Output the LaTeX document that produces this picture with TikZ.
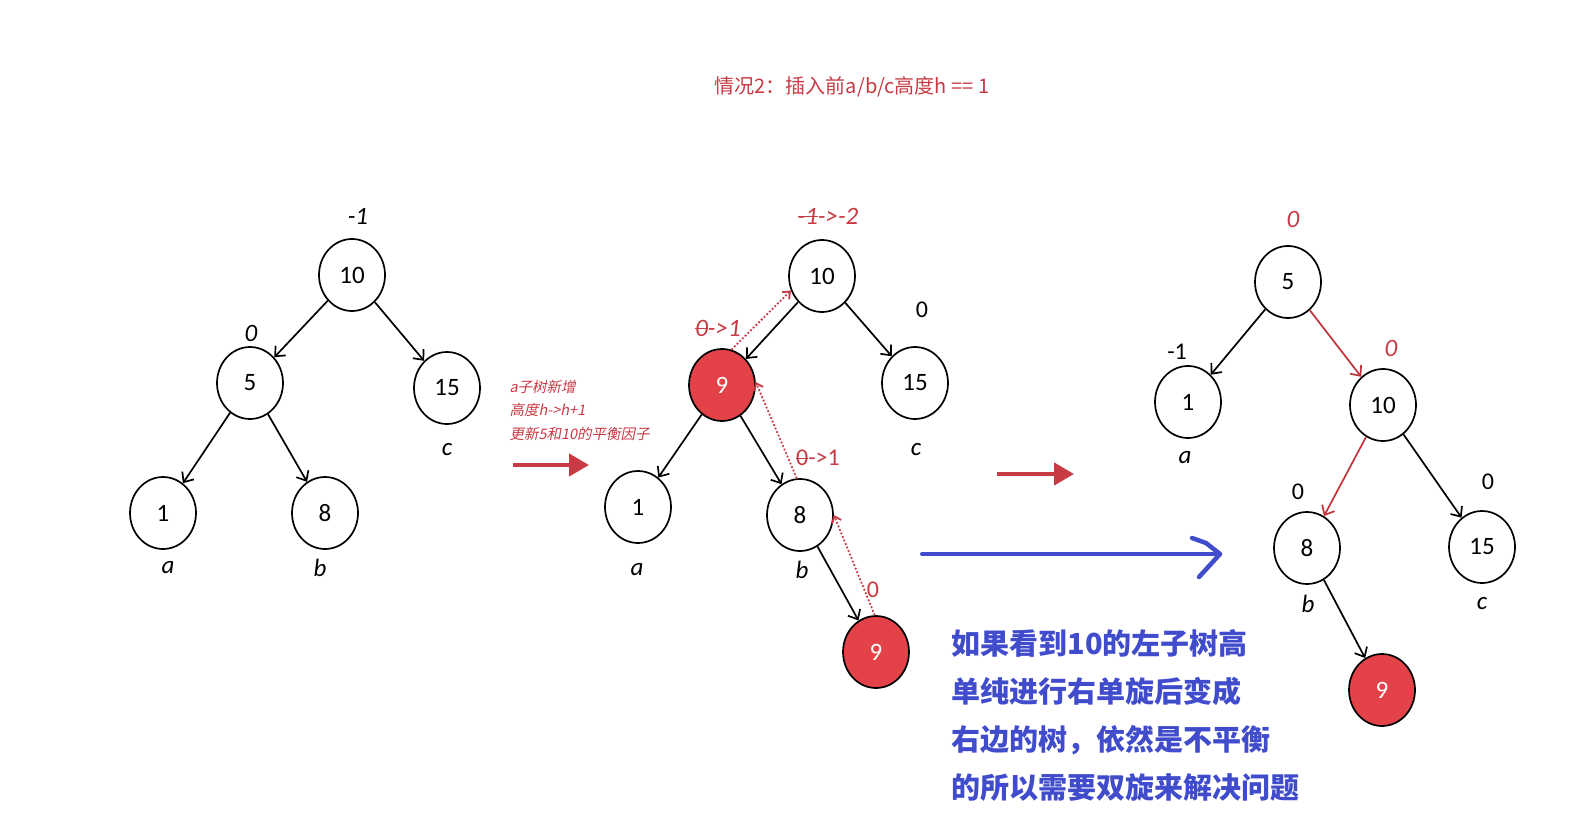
\documentclass[tikz,border=0pt]{standalone}
\usepackage{fontspec}
\setmainfont{Carlito}
\newfontfamily\cjk{Noto Sans CJK SC}
\newfontfamily\cjkit[FakeSlant=0.2]{Noto Sans CJK SC}
\usetikzlibrary{shapes.geometric,arrows.meta}
\definecolor{nodered}{RGB}{226,66,72}
\definecolor{annored}{RGB}{200,58,68}
\definecolor{edgered}{RGB}{192,52,58}
\definecolor{textblue}{RGB}{64,76,204}
\newsavebox\stbox
\newcommand\strk[1]{\sbox\stbox{#1}\rlap{\rule[0.3em]{\wd\stbox}{1pt}}\usebox\stbox}
\tikzset{
  nd/.style={ellipse,draw,line width=1.7pt,minimum width=66pt,minimum height=72pt,inner sep=0pt,font=\fontsize{25}{25}\selectfont},
  rd/.style={nd,fill=nodered,text=white},
  edge/.style={-{Straight Barb[length=8pt,width=14pt]},line width=1.7pt},
  redge/.style={edge,draw=edgered},
  dotarrow/.style={-{Straight Barb[length=6pt,width=10pt]},dotted,line width=1.8pt,draw=annored},
  lab/.style={font=\itshape\fontsize{25}{25}\selectfont},
  bf/.style={font=\fontsize{24}{24}\selectfont},
  rlab/.style={lab,text=annored},
  bigarrow/.style={-{Triangle[length=20pt,width=22pt]},line width=4.5pt,draw=annored},
}
\begin{document}
\begin{tikzpicture}[x=1pt,y=-1pt]
\useasboundingbox (0,0) rectangle (1593,838);
% title
\node[text=annored,font=\cjk\fontsize{20}{20}\selectfont] (title) at (852,87) {情况2：插入前a/b/c高度h == 1};

% ---------- left tree ----------
\node[nd] (L10) at (352,275) {10};
\node[nd] (L5) at (250,383) {5};
\node[nd] (L15) at (447,388) {15};
\node[nd] (L1) at (163,513) {1};
\node[nd] (L8) at (325,513) {8};
\node[lab] (Lb10) at (358,216) {-1};
\node[lab] (Lb5) at (251,333) {0};
\node[lab] (La) at (168,568) {a};
\node[lab] (Lb) at (320,568) {b};
\node[lab] (Lc) at (447,450) {c};
\draw[edge] (L10) -- (L5);
\draw[edge] (L10) -- (L15);
\draw[edge] (L5) -- (L1);
\draw[edge] (L5) -- (L8);

% first red arrow and note
\node[text=annored,align=left,anchor=west,font=\cjkit\fontsize{14.5}{23.5}\selectfont] (note) at (506,410)
  {a子树新增\\高度h->h+1\\更新5和10的平衡因子};
\coordinate (ra1s) at (513,465);
\coordinate (ra1e) at (589,465);
\draw[bigarrow] (ra1s) -- (ra1e);

% ---------- middle tree ----------
\node[nd] (M10) at (822,276) {10};
\node[rd] (M9) at (722,385) {9};
\node[nd] (M15) at (915,383) {15};
\node[nd] (M1) at (638,507) {1};
\node[nd] (M8) at (800,515) {8};
\node[rd] (B9) at (876,652) {9};
\node[rlab] (Mlb10) at (828,216) {\strk{-1}->-2};
\node[bf] (Mlb15) at (922,310) {0};
\node[rlab] (Mlb9) at (718,328) {\strk{0}->1};
\node[bf,text=annored] (Mlb8) at (818,458) {\strk{0}->1};
\node[bf,text=annored] (MlbB9) at (873,590) {0};
\node[lab] (Ma) at (637,570) {a};
\node[lab] (Mb) at (802,570) {b};
\node[lab] (Mc) at (916,450) {c};
\draw[edge] (M10) -- (M9);
\draw[edge] (M10) -- (M15);
\draw[edge] (M9) -- (M1);
\draw[edge] (M9) -- (M8);
\draw[edge] (M8) -- (B9);
\draw[dotarrow] (M9.75) -- (M10.205);
\draw[dotarrow] (M8.95) -- (M9.5);
\draw[dotarrow] (B9.92) -- (M8.0);

% second red arrow
\coordinate (ra2s) at (997,474);
\coordinate (ra2e) at (1074,474);
\draw[bigarrow] (ra2s) -- (ra2e);

% blue arrow
\coordinate (bas) at (922,554);
\coordinate (bae) at (1220,554);
\coordinate (bh1) at (1192,538);
\coordinate (bh2) at (1199,577);
\draw[textblue,line width=4pt,line cap=round] (bas) -- (bae);
\draw[textblue,line width=4.5pt,line cap=round,line join=round] (bh1) -- (1206,543) -- (bae) -- (bh2);

% blue text
\node[text=textblue,align=left,anchor=west,font=\cjk\bfseries\fontsize{29}{48}\selectfont] (expl) at (948,715)
  {如果看到10的左子树高\\单纯进行右单旋后变成\\右边的树，依然是不平衡\\的所以需要双旋来解决问题};

% ---------- right tree ----------
\node[nd] (R5) at (1288,282) {5};
\node[nd] (R1) at (1188,402) {1};
\node[nd] (R10) at (1383,405) {10};
\node[nd] (R8) at (1307,548) {8};
\node[nd] (R15) at (1482,547) {15};
\node[rd] (R9) at (1382,690) {9};
\node[rlab] (Rlb5) at (1293,219) {0};
\node[bf] (Rlb1) at (1177,352) {-1};
\node[rlab] (Rlb10) at (1391,348) {0};
\node[bf] (Rlb8) at (1298,492) {0};
\node[bf] (Rlb15) at (1488,482) {0};
\node[lab] (Ra) at (1185,458) {a};
\node[lab] (Rb) at (1308,604) {b};
\node[lab] (Rc) at (1482,604) {c};
\draw[edge] (R5) -- (R1);
\draw[redge] (R5) -- (R10);
\draw[redge] (R10) -- (R8);
\draw[edge] (R10) -- (R15);
\draw[edge] (R8) -- (R9);
\end{tikzpicture}
\end{document}
